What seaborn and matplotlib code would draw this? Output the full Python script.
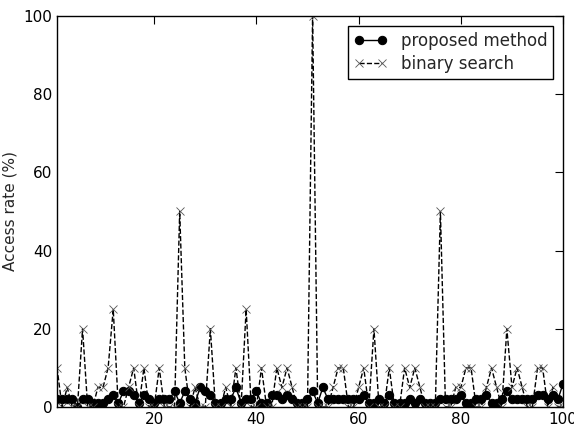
import numpy as np
import pandas as pd
import seaborn as sns
import matplotlib
matplotlib.use('Agg')
import matplotlib.pyplot as plt

# データ
index = list(range(1, 101))

proposed = [2, 2, 2, 2, 0, 2, 2, 1, 1, 1,
            2, 3, 1, 4, 4, 3, 1, 3, 2, 1,
            2, 2, 2, 4, 1, 4, 2, 1, 5, 4,
            3, 1, 1, 2, 2, 5, 1, 2, 2, 4,
            1, 1, 3, 3, 2, 3, 2, 1, 1, 2,
            4, 1, 5, 2, 2, 2, 2, 2, 2, 2,
            3, 1, 1, 2, 1, 3, 1, 1, 1, 2,
            1, 2, 1, 1, 1, 2, 2, 2, 2, 3,
            1, 1, 2, 2, 3, 1, 1, 2, 4, 2,
            2, 2, 2, 2, 3, 3, 2, 3, 2, 6]

binary = [10, 0, 5, 0, 0, 20, 0, 0, 5, 5,
          10, 25, 0, 0, 5, 10, 0, 10, 0, 0,
          10, 0, 0, 0, 50, 10, 0, 5, 0, 0,
          20, 0, 0, 5, 0, 10, 0, 25, 0, 0,
          10, 0, 0, 10, 5, 10, 5, 0, 0, 0,
          100, 0, 0, 0, 5, 10, 10, 0, 0, 5,
          10, 0, 20, 0, 0, 10, 0, 0, 10, 5,
          10, 5, 0, 0, 0, 50, 0, 0, 5, 5,
          10, 10, 0, 0, 5, 10, 5, 0, 20, 5,
          10, 5, 0, 0, 10, 10, 0, 5, 0, 0]

x_ticks = [20, 40, 60, 80, 100]
y_ticks = [0, 20, 40, 60, 80, 100]

df = pd.DataFrame({'index': index, 'proposed': proposed, 'binary': binary})

sns.set_style('white')
plt.rcParams['font.family'] = ['DejaVu Sans']
plt.rcParams['font.size'] = 12
plt.rcParams['xtick.direction'] = 'in'
plt.rcParams['ytick.direction'] = 'in'
plt.rcParams['xtick.top'] = True
plt.rcParams['ytick.right'] = True

fig, ax = plt.subplots(figsize=(5.74, 4.30), dpi=100)
fig.subplots_adjust(left=0.0993, right=0.981, top=0.963, bottom=0.0535)

sns.lineplot(data=df, x='index', y='proposed', ax=ax, color='k', linewidth=1,
             marker='o', markersize=6, markeredgecolor='k',
             label='proposed method')
sns.lineplot(data=df, x='index', y='binary', ax=ax, color='k', linewidth=1,
             linestyle='--', dashes=(6, 6), marker='x', markersize=6,
             markeredgewidth=0.6, markeredgecolor='#555555',
             label='binary search')

ax.set_xlim(1, 100)
ax.set_ylim(0, 100)
ax.set_xticks(x_ticks)
ax.set_yticks(y_ticks)
ax.set_xlabel('')
ax.set_ylabel('Access rate (%)', fontsize=11)
ax.tick_params(axis='both', which='major', length=6, width=0.8, labelsize=11,
               colors='k', top=True, right=True)
for sp in ax.spines.values():
    sp.set_color('k')
    sp.set_linewidth(1)

leg = ax.legend(loc='upper right', numpoints=2, fontsize=12, frameon=True,
                fancybox=False, handlelength=2, borderpad=0.35,
                labelspacing=0.3, borderaxespad=0.6)
leg.get_frame().set_edgecolor('k')
leg.get_frame().set_linewidth(1)
leg.get_frame().set_alpha(1)

plt.savefig('out.png', dpi=100)
